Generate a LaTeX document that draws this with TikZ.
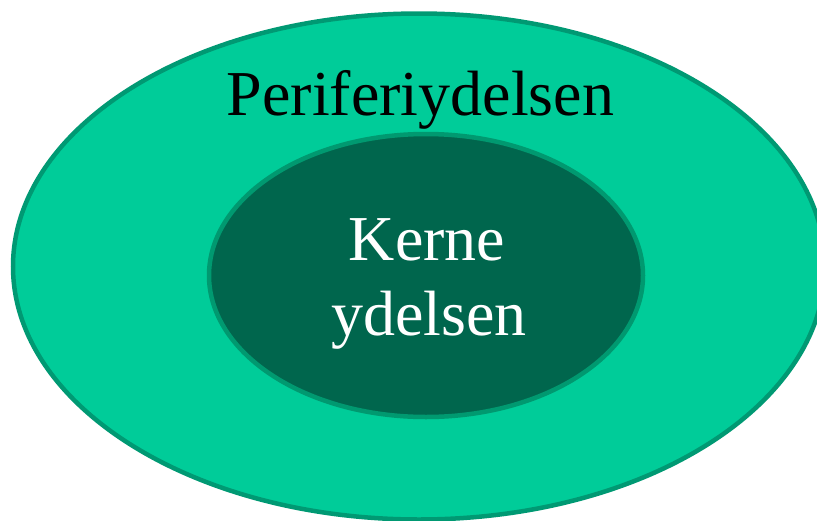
\documentclass[tikz,border=0pt]{standalone}
\usepackage{fontspec}
\setmainfont{Liberation Serif}
\definecolor{outerfill}{HTML}{00CC99}
\definecolor{outerline}{HTML}{009973}
\definecolor{innerfill}{HTML}{00664D}
\definecolor{innerline}{HTML}{009970}
\tikzset{
  bigtext/.style={font=\fontsize{64}{76}\selectfont, anchor=base, inner sep=0pt},
}
\begin{document}
\begin{tikzpicture}[x=1pt,y=-1pt]
\useasboundingbox (0,0) rectangle (817,520);
\begin{scope}
\clip (0,0) rectangle (817,520);
\draw[fill=outerfill, draw=outerline, line width=4.5pt] (419,266.5) ellipse [x radius=406, y radius=253];
\draw[fill=innerfill, draw=innerline, line width=4.5pt] (426,275.5) ellipse [x radius=217, y radius=141.5];
\end{scope}
\node[bigtext, text=black] (outer) at (420.5,115) {Periferiydelsen};
\node[bigtext, text=white] (k1) at (427,260) {Kerne};
\node[bigtext, text=white] (k2) at (429,335) {ydelsen};
\end{tikzpicture}
\end{document}
